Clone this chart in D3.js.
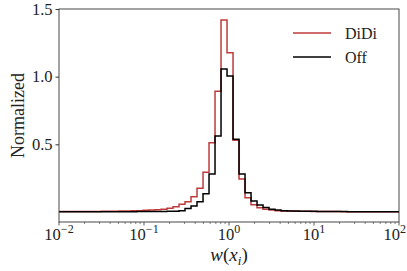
<!DOCTYPE html>
<html><head><meta charset="utf-8">
<script src="https://cdn.jsdelivr.net/npm/d3@7"></script>
<style>html,body{margin:0;padding:0;background:#fff;}svg{display:block;}</style>
</head><body>
<script>
// bin edges: log10 exponents, first edge and width (decades)
const binStartExp = -2;
const binWidthExp = 0.0706;
const didi = [0.003,0.003,0.003,0.003,0.004,0.004,0.004,0.005,0.005,0.006,
  0.007,0.008,0.009,0.010,0.012,0.014,0.017,0.021,0.028,0.039,
  0.057,0.076,0.113,0.175,0.293,0.512,0.892,1.419,1.177,0.530,
  0.244,0.105,0.053,0.031,0.020,0.015,0.010,0.008,0.007,0.006,
  0.005,0.005,0.004,0.004,0.003,0.003,0.003,0.002,0.002,0.002,
  0.002,0.002,0.002,0.001,0.001,0.001,0.001];
const off = [0.001,0.001,0.001,0.001,0.001,0.001,0.001,0.001,0.001,0.002,
  0.002,0.002,0.002,0.003,0.003,0.003,0.004,0.004,0.005,0.006,
  0.010,0.025,0.044,0.076,0.135,0.280,0.562,1.057,1.005,0.537,
  0.281,0.143,0.082,0.051,0.033,0.020,0.015,0.010,0.008,0.007,
  0.006,0.005,0.005,0.004,0.004,0.003,0.003,0.003,0.002,0.002,
  0.002,0.002,0.002,0.002,0.001,0.001,0.001];
const seriesNames = ["DiDi","Off"];
const seriesColors = ["#b82525","#000000"];
const yTicks = [0.5,1.0,1.5];
const xTickExps = [-2,-1,0,1,2];

const W=407,H=271;
const m={l:59,r:8,t:9,b:49};
const svg=d3.select("body").append("svg").attr("width",W).attr("height",H);
const x=d3.scaleLog().domain([1e-2,1e2]).range([m.l,W-m.r]);
const y=d3.scaleLinear().domain([-0.074,1.5]).range([H-m.b,m.t]);
const font='"Liberation Serif", "DejaVu Serif", serif';

svg.append("clipPath").attr("id","c").append("rect")
  .attr("x",m.l).attr("y",m.t).attr("width",W-m.l-m.r).attr("height",H-m.t-m.b);

function pts(vals){
  const p=vals.map((v,k)=>[Math.pow(10,binStartExp+k*binWidthExp),v]);
  p.push([Math.pow(10,binStartExp+vals.length*binWidthExp),vals[vals.length-1]]);
  return p;
}
const line=d3.line().x(d=>x(d[0])).y(d=>y(d[1])).curve(d3.curveStepAfter);
const g=svg.append("g").attr("clip-path","url(#c)");
[didi,off].forEach((s,i)=>{
  g.append("path").attr("d",line(pts(s))).attr("fill","none")
   .attr("stroke",seriesColors[i]).attr("stroke-width",1.5)
   .attr("stroke-opacity",i===0?0.9:1).attr("stroke-linejoin","miter");
});

// frame
svg.append("rect").attr("x",m.l).attr("y",m.t).attr("width",W-m.l-m.r).attr("height",H-m.t-m.b)
  .attr("fill","none").attr("stroke","#333").attr("stroke-width",0.9);

// y axis
const ya=svg.append("g").attr("transform",`translate(${m.l},0)`)
  .call(d3.axisLeft(y).tickValues(yTicks).tickFormat(d3.format(".1f")).tickSize(3.5).tickPadding(3));
ya.select(".domain").remove();
ya.selectAll("line").attr("stroke","#333");
ya.selectAll("text").attr("font-family",font).attr("font-size",16.5).attr("fill","#222");

// x axis
const minor=[];
for(let e=-2;e<2;e++) for(let k=2;k<10;k++) minor.push(k*Math.pow(10,e));
const xa=svg.append("g").attr("transform",`translate(0,${H-m.b})`);
xa.selectAll("line.min").data(minor).enter().append("line")
  .attr("x1",d=>x(d)).attr("x2",d=>x(d)).attr("y1",0).attr("y2",2).attr("stroke","#333").attr("stroke-width",0.6);
xa.selectAll("line.maj").data(xTickExps).enter().append("line")
  .attr("x1",d=>x(Math.pow(10,d))).attr("x2",d=>x(Math.pow(10,d))).attr("y1",0).attr("y2",3.5).attr("stroke","#333").attr("stroke-width",0.8);
const lab=xa.selectAll("text").data(xTickExps).enter().append("text")
  .attr("x",d=>x(Math.pow(10,d))).attr("y",18).attr("text-anchor","middle")
  .attr("font-family",font).attr("font-size",16.5).attr("fill","#222");
lab.append("tspan").text("10");
lab.append("tspan").attr("dy",-7).attr("font-size",12).text(d=>d<0?"\u2212"+(-d):String(d));
lab.each(function(){
  const b=this.getBBox();
  if(b.x+b.width>W-1){ d3.select(this).attr("x",+d3.select(this).attr("x")-(b.x+b.width-(W-1))); }
});

// axis labels
const xl=svg.append("text").attr("x",(m.l+W-m.r)/2).attr("y",261).attr("text-anchor","middle")
  .attr("font-family",font).attr("font-size",19).attr("fill","#222");
xl.append("tspan").attr("font-style","italic").text("w");
xl.append("tspan").text("(");
xl.append("tspan").attr("font-style","italic").text("x");
xl.append("tspan").attr("font-style","italic").attr("font-size",13).attr("dy",4).text("i");
xl.append("tspan").attr("dy",-4).text(")");

svg.append("text").attr("transform",`translate(24,${(m.t+H-m.b)/2}) rotate(-90)`)
  .attr("text-anchor","middle").attr("font-family",font).attr("font-size",18).attr("fill","#222")
  .text("Normalized");

// legend
const lg=svg.append("g");
seriesNames.forEach((n,i)=>{
  const yy=33+i*24;
  lg.append("line").attr("x1",293).attr("x2",331).attr("y1",yy).attr("y2",yy)
    .attr("stroke",seriesColors[i]).attr("stroke-width",1.5).attr("stroke-opacity",i===0?0.9:1);
  lg.append("text").attr("x",345).attr("y",yy+5.5).attr("font-family",font).attr("font-size",16)
    .attr("fill","#222").text(n);
});
</script>
</body></html>
